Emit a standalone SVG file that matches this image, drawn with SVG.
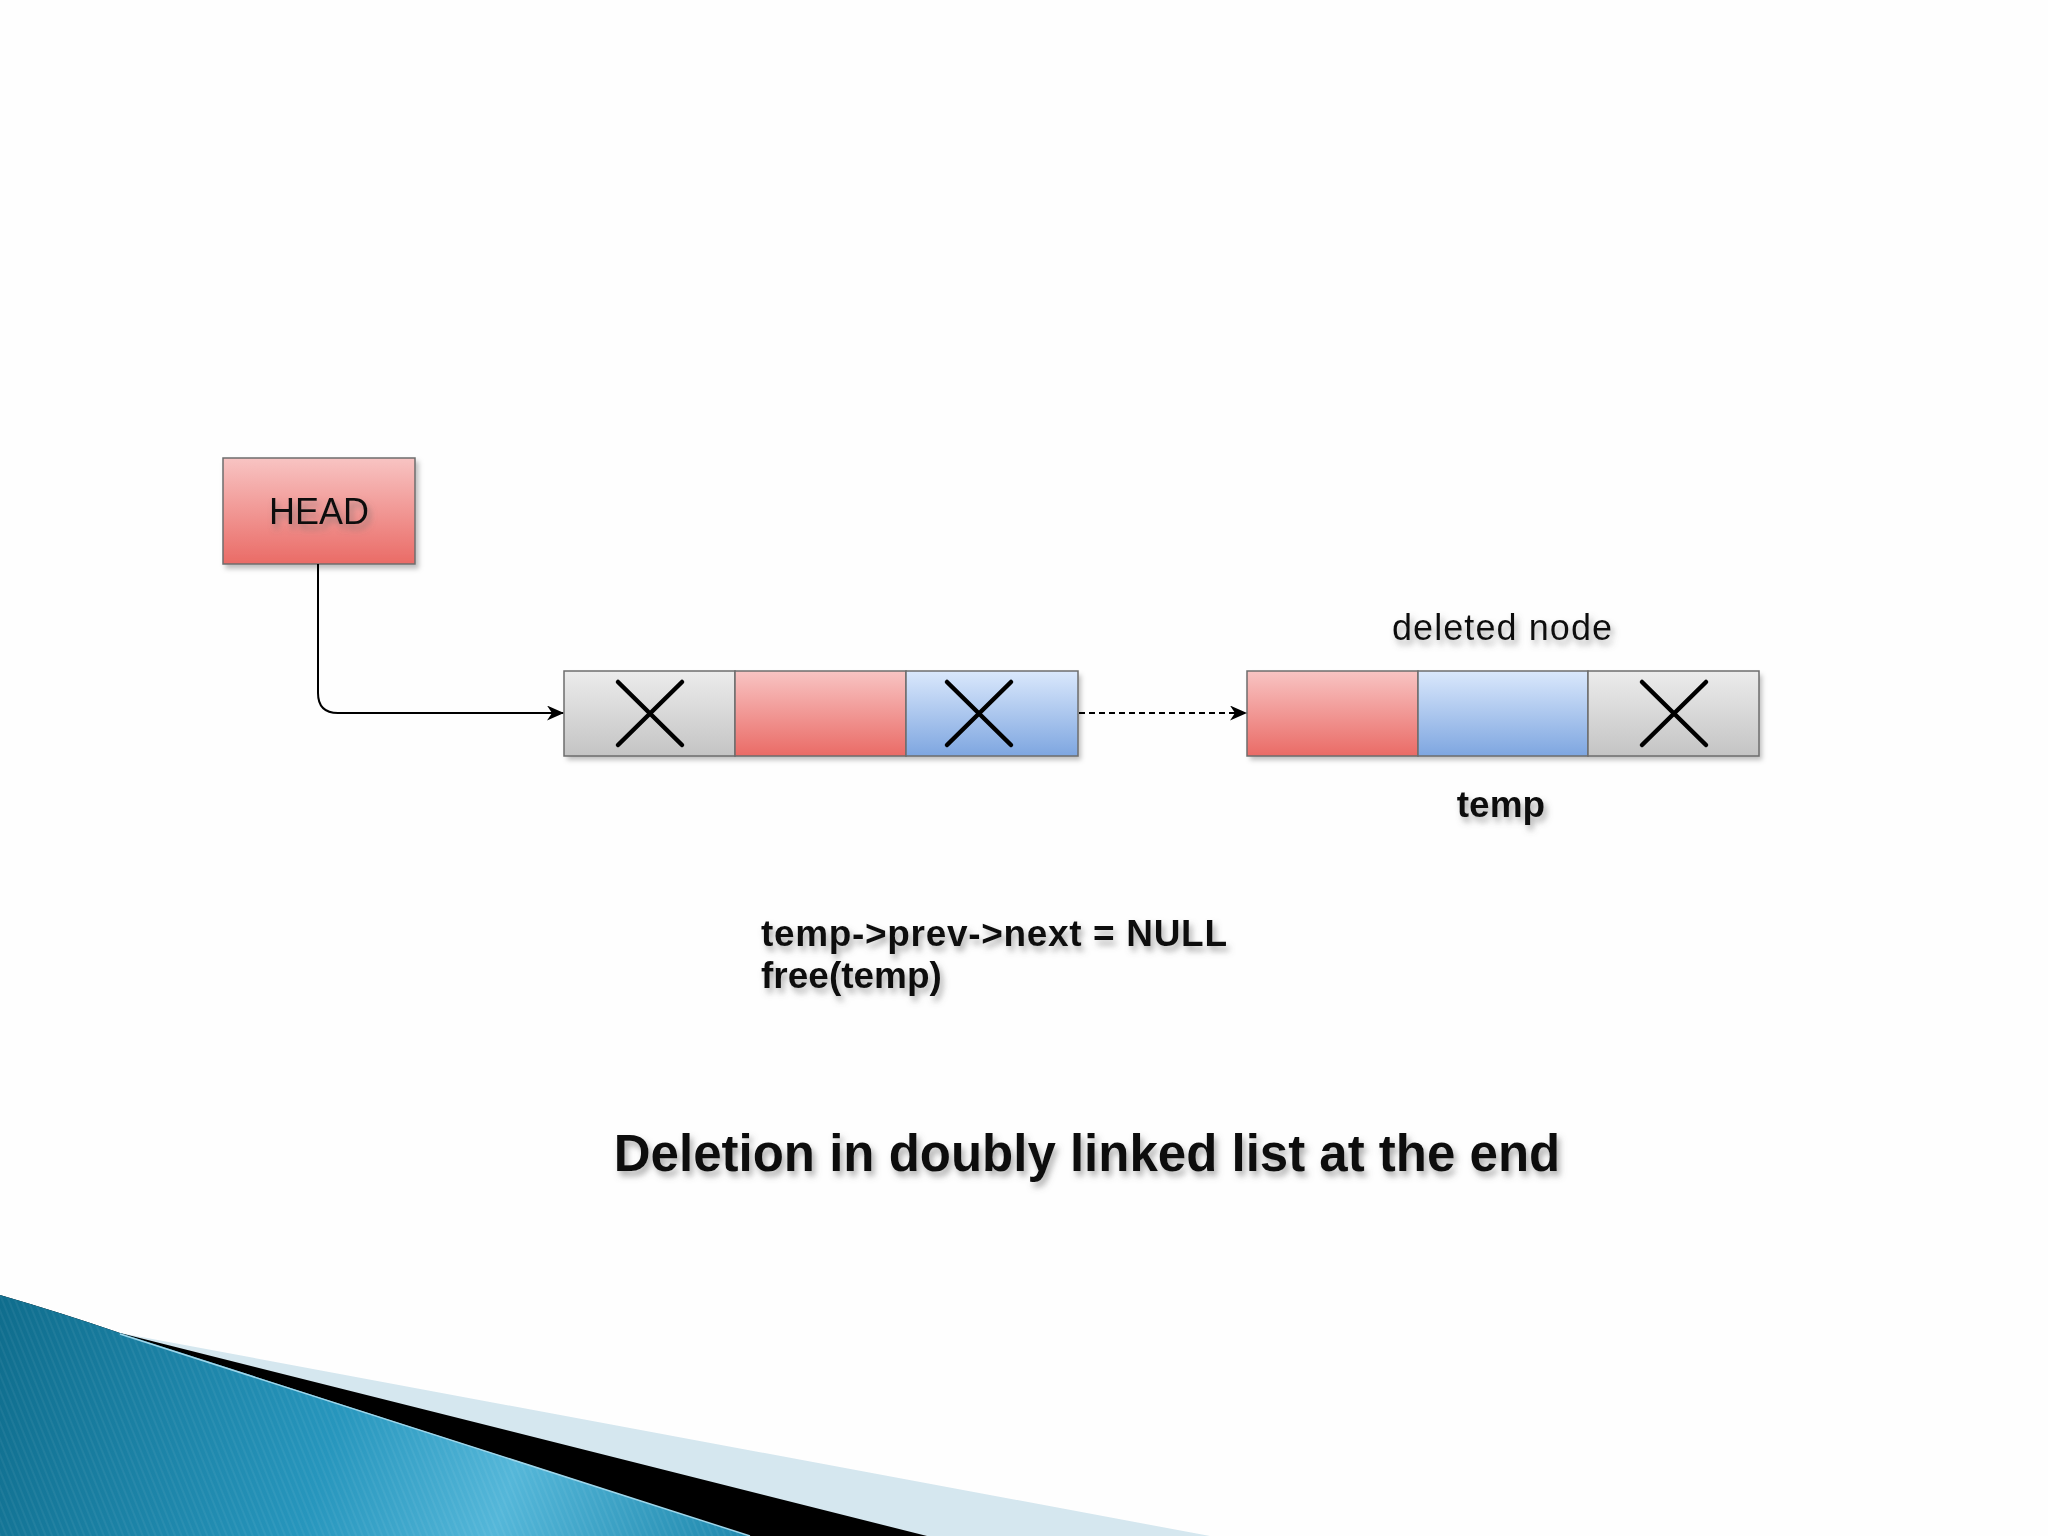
<svg xmlns="http://www.w3.org/2000/svg" width="2048" height="1536" viewBox="0 0 2048 1536">
  <defs>
    <linearGradient id="gRed" x1="0" y1="0" x2="0" y2="1">
      <stop offset="0" stop-color="#f8c4c3"/>
      <stop offset="1" stop-color="#ea6b66"/>
    </linearGradient>
    <linearGradient id="gBlue" x1="0" y1="0" x2="0" y2="1">
      <stop offset="0" stop-color="#dae8fc"/>
      <stop offset="1" stop-color="#7ea6e0"/>
    </linearGradient>
    <linearGradient id="gGrey" x1="0" y1="0" x2="0" y2="1">
      <stop offset="0" stop-color="#ececec"/>
      <stop offset="1" stop-color="#c4c4c4"/>
    </linearGradient>
    <linearGradient id="gTeal" gradientUnits="userSpaceOnUse" x1="0" y1="1300" x2="760" y2="1536">
      <stop offset="0" stop-color="#0f6d8d"/>
      <stop offset="0.45" stop-color="#2796bd"/>
      <stop offset="0.68" stop-color="#55b7d9"/>
      <stop offset="1" stop-color="#1c86ab"/>
    </linearGradient>
    <pattern id="stripes" width="6" height="6" patternUnits="userSpaceOnUse" patternTransform="rotate(-22)">
      <rect x="0" y="0" width="2" height="6" fill="#ffffff" opacity="0.05"/>
    </pattern>
    <filter id="shadow" x="-10%" y="-20%" width="130%" height="160%">
      <feDropShadow dx="3" dy="4" stdDeviation="2.5" flood-color="#000" flood-opacity="0.25"/>
    </filter>
    <filter id="tshadow" x="-10%" y="-30%" width="120%" height="170%">
      <feDropShadow dx="3" dy="5" stdDeviation="3" flood-color="#6b6b6b" flood-opacity="0.55"/>
    </filter>
    <marker id="arrow" viewBox="0 0 17 15" refX="16" refY="7.5" markerWidth="17" markerHeight="15" markerUnits="userSpaceOnUse" orient="auto">
      <path d="M0,0 L17,7.5 L0,15 L5,7.5 Z" fill="#000"/>
    </marker>
  </defs>
  <style>
    .cell { stroke: #6d6d6d; stroke-width: 1.5; }
    .x { stroke: #000; stroke-width: 4.5; stroke-linecap: round; fill: none; }
    .t { font-family: "Liberation Sans", Arial, sans-serif; fill: #111; }
    .b { font-weight: bold; }
    .conn { fill: none; stroke: #000; stroke-width: 2; }
  </style>

  <rect x="0" y="0" width="2048" height="1536" fill="#fefefe"/>

  <!-- bottom-left decoration -->
  <g id="decoration">
    <path d="M0,1295 Q62,1313 120,1333 L1210,1536 L0,1536 Z" fill="#d5e7ef"/>
    <path d="M0,1295 Q62,1313 120,1333 L927,1536 L0,1536 Z" fill="#000"/>
    <path d="M0,1295 Q62,1313 120,1333 L750,1536 L0,1536 Z" fill="url(#gTeal)"/>
    <path d="M0,1295 Q62,1313 120,1333 L750,1536 L0,1536 Z" fill="url(#stripes)"/>
    <path d="M120,1334 L750,1536" stroke="#9fd6ea" stroke-width="1.5" fill="none"/>
  </g>

  <g id="head" filter="url(#shadow)">
    <rect x="223" y="458" width="192" height="106" fill="url(#gRed)" class="cell"/>
  </g>
  <text class="t" x="319" y="524" font-size="36" text-anchor="middle" filter="url(#tshadow)">HEAD</text>

  <g id="node1">
    <g filter="url(#shadow)">
      <rect x="564" y="671" width="514" height="85" fill="#ccc" stroke="none"/>
    </g>
    <rect x="564" y="671" width="171" height="85" fill="url(#gGrey)" class="cell"/>
    <rect x="735" y="671" width="171" height="85" fill="url(#gRed)" class="cell"/>
    <rect x="906" y="671" width="172" height="85" fill="url(#gBlue)" class="cell"/>
    <path class="x" d="M618,682 L682,745 M682,682 L618,745"/>
    <path class="x" d="M947,682 L1011,745 M1011,682 L947,745"/>
  </g>

  <g id="node2">
    <g filter="url(#shadow)">
      <rect x="1247" y="671" width="512" height="85" fill="#ccc" stroke="none"/>
    </g>
    <rect x="1247" y="671" width="171" height="85" fill="url(#gRed)" class="cell"/>
    <rect x="1418" y="671" width="170" height="85" fill="url(#gBlue)" class="cell"/>
    <rect x="1588" y="671" width="171" height="85" fill="url(#gGrey)" class="cell"/>
    <path class="x" d="M1642,682 L1706,745 M1706,682 L1642,745"/>
  </g>

  <g id="connectors">
    <path class="conn" d="M318,564 V693 Q318,713 338,713 H563" marker-end="url(#arrow)"/>
    <path class="conn" d="M1079,713 H1246" stroke-dasharray="6 4" marker-end="url(#arrow)"/>
  </g>

  <g id="labels" filter="url(#tshadow)">
    <text class="t" x="1502" y="640" font-size="36" text-anchor="middle" textLength="220">deleted node</text>
    <text class="t b" x="1501" y="817" font-size="37" text-anchor="middle">temp</text>
    <text class="t b" x="761" y="946" font-size="37" textLength="466">temp-&gt;prev-&gt;next = NULL</text>
    <text class="t b" x="761" y="988" font-size="37">free(temp)</text>
    <text class="t b" x="1087" y="1171" font-size="51" text-anchor="middle">Deletion in doubly linked list at the end</text>
  </g>
</svg>
